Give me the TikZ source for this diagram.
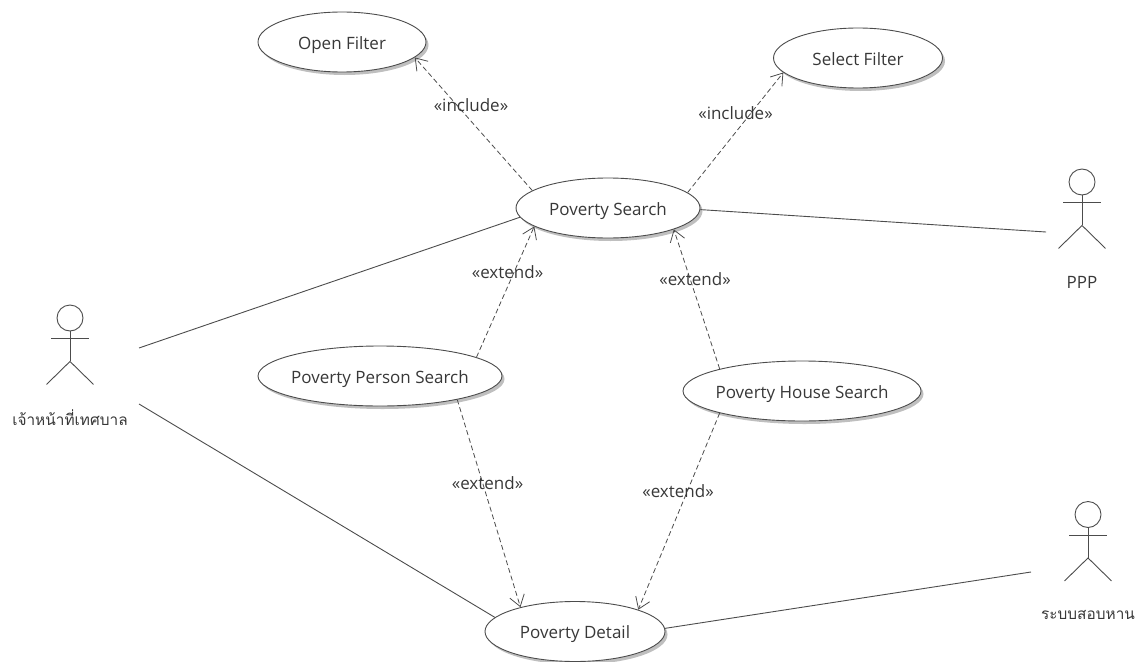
\documentclass[tikz,border=0pt]{standalone}
\usepackage{fontspec}
\setmainfont{Open Sans}
\newfontfamily\thaifont[Script=Thai]{Loma}
\usetikzlibrary{shapes.geometric,shadows,arrows.meta}
\definecolor{umlline}{gray}{0.30}
\definecolor{umltext}{gray}{0.22}
\tikzset{
  usecase/.style={ellipse,draw=umlline,fill=white,line width=0.9pt,inner xsep=-40pt,inner ysep=-10pt,text depth=0pt,text height=14pt,text=umltext,font=\fontsize{17}{20}\selectfont,
    drop shadow={shadow xshift=2.5pt,shadow yshift=-3pt,opacity=.25,fill=black}},
  assoc/.style={draw=umlline,line width=0.9pt},
  dep/.style={draw=umlline,line width=0.8pt,dash pattern=on 5pt off 3pt,-{Straight Barb[length=11pt,width=15pt,line width=.8pt]}},
  deplabel/.style={inner sep=0pt,text=umltext,font=\fontsize{17}{20}\selectfont},
  actorlabel/.style={inner sep=0pt,text=umltext,font=\fontsize{17}{20}\selectfont},
  thailabel/.style={inner sep=0pt,text=umltext,font=\fontsize{15.4}{18}\selectfont},
  actorhead/.style={circle,draw=umlline,line width=0.9pt,inner sep=0pt,minimum size=26pt},
  stick/.style={draw=umlline,line width=0.9pt}
}
\newcommand{\umlactor}[3]{%
  \node[actorhead] (#1) at (#2,#3) {};
  \draw[stick] (#1.south) -- ++(0,30);
  \draw[stick] ([xshift=-19pt,yshift=-7pt]#1.south) -- ++(38,0);
  \draw[stick] ([xshift=-23.5pt,yshift=-53pt]#1.south) -- ([yshift=-30pt]#1.south) -- ([xshift=23.5pt,yshift=-53pt]#1.south);
}
\begin{document}
\begin{tikzpicture}[x=1pt,y=-1pt]
\useasboundingbox (0,0) rectangle (1142,661);
\node[usecase,minimum width=168pt,minimum height=60pt] (of) at (342,42) {Open Filter};
\node[usecase,minimum width=169pt,minimum height=60pt] (sf) at (858,58) {Select Filter};
\node[usecase,minimum width=184pt,minimum height=60pt] (ps) at (608,208) {Poverty Search};
\node[usecase,minimum width=244pt,minimum height=60pt] (pp) at (380,376) {Poverty Person Search};
\node[usecase,minimum width=238pt,minimum height=60pt] (ph) at (802,391) {Poverty House Search};
\node[usecase,minimum width=180pt,minimum height=60pt] (pd) at (575,631.5) {Poverty Detail};
\umlactor{a1}{70}{318}
\umlactor{a2}{1082}{182}
\umlactor{a3}{1088}{514.5}
\node[thailabel] (l1) at (70,418) {\thaifont เจ้าหน้าที่เทศบาล};
\node[actorlabel] (l2) at (1082,282) {PPP};
\node[thailabel] (l3) at (1088,615) {\thaifont ระบบสอบหาน};
\coordinate (e1) at (139,348);
\coordinate (e2) at (139,404);
\coordinate (e3) at (1046,232);
\coordinate (e4) at (1031,572);
\draw[assoc] (e1) -- (ps.186.3);
\draw[assoc] (e2) -- (pd.170);
\draw[assoc] (ps.-1) -- (e3);
\draw[assoc] (pd.2.5) -- (e4);
\draw[dep] (ps.167) -- (of.-12.7);
\draw[dep] (ps.11.3) -- (sf.191.4);
\draw[dep] (pp.11) -- (ps.194.4);
\draw[dep] (ph.165.4) -- (ps.-18);
\draw[dep] (pp.-17.5) -- (pd.156.9);
\draw[dep] (ph.195) -- (pd.19.6);
\node[deplabel] (t1) at (471,105) {«include»};
\node[deplabel] (t2) at (735.5,113) {«include»};
\node[deplabel] (t3) at (507.5,271.7) {«extend»};
\node[deplabel] (t4) at (695,279) {«extend»};
\node[deplabel] (t5) at (487.5,483) {«extend»};
\node[deplabel] (t6) at (678,491) {«extend»};
\end{tikzpicture}
\end{document}
